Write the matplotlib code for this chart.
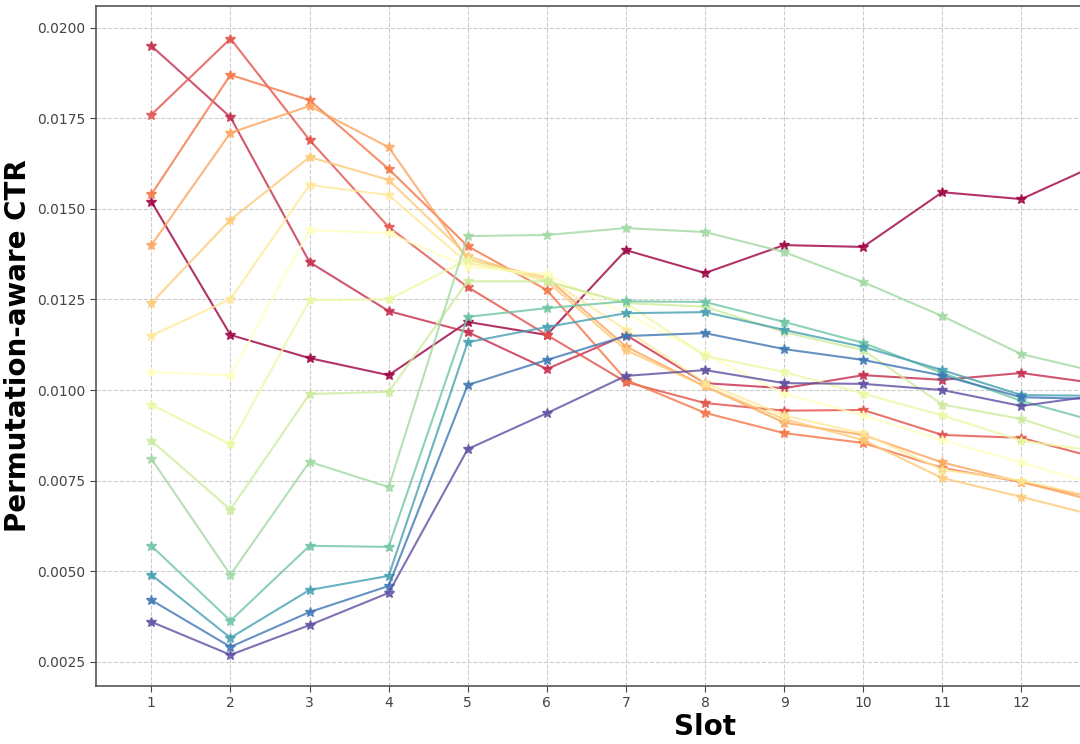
import numpy as np
import matplotlib

matplotlib.use("Agg")
import matplotlib.pyplot as plt  # noqa: E402

# slots 1..13 (the picture is cut off a bit past slot 12)
slots = np.arange(1, 14)

# one curve per original position, ordered along the Spectral colormap
ctr_0 = [0.0152, 0.01152, 0.01088, 0.01041, 0.01188, 0.01152, 0.01386, 0.01323, 0.0140, 0.01395, 0.01546, 0.01527, 0.01626]
ctr_1 = [0.0195, 0.01753, 0.01353, 0.01218, 0.0116, 0.01058, 0.01152, 0.01019, 0.01005, 0.01041, 0.01028, 0.01047, 0.01017]
ctr_2 = [0.0176, 0.0197, 0.0169, 0.0145, 0.01284, 0.01152, 0.01022, 0.00964, 0.00943, 0.00945, 0.00876, 0.00868, 0.0081]
ctr_3 = [0.0154, 0.0187, 0.0180, 0.0161, 0.01397, 0.01276, 0.01028, 0.00937, 0.00881, 0.00854, 0.00785, 0.00746, 0.0070]
ctr_4 = [0.0140, 0.0171, 0.01784, 0.0167, 0.0136, 0.0131, 0.0112, 0.0101, 0.0091, 0.00876, 0.0080, 0.00746, 0.0069]
ctr_5 = [0.0124, 0.0147, 0.01643, 0.0158, 0.0137, 0.0130, 0.0111, 0.0101, 0.0092, 0.00862, 0.00757, 0.00705, 0.0065]
ctr_6 = [0.0115, 0.01251, 0.01566, 0.01538, 0.0135, 0.0131, 0.01166, 0.0102, 0.0093, 0.0088, 0.0078, 0.0075, 0.0070]
ctr_7 = [0.0105, 0.0104, 0.01441, 0.01433, 0.0134, 0.0132, 0.0121, 0.0110, 0.0099, 0.0093, 0.00862, 0.0080, 0.00735]
ctr_8 = [0.0096, 0.0085, 0.01248, 0.0125, 0.0136, 0.0130, 0.0124, 0.01094, 0.0105, 0.0099, 0.0093, 0.0086, 0.0083]
ctr_9 = [0.0086, 0.0067, 0.00989, 0.00995, 0.0130, 0.0130, 0.0124, 0.0123, 0.0116, 0.0111, 0.0096, 0.0092, 0.0085]
ctr_10 = [0.0081, 0.0049, 0.00802, 0.00732, 0.01425, 0.01428, 0.01447, 0.01436, 0.01381, 0.01298, 0.01204, 0.01099, 0.01048]
ctr_11 = [0.0057, 0.00363, 0.0057, 0.00567, 0.01202, 0.01226, 0.01245, 0.01243, 0.01188, 0.0113, 0.01047, 0.0097, 0.0091]
ctr_12 = [0.0049, 0.00316, 0.00448, 0.00487, 0.01132, 0.01174, 0.01212, 0.01215, 0.01166, 0.01119, 0.01055, 0.00986, 0.00984]
ctr_13 = [0.0042, 0.00291, 0.00387, 0.00459, 0.01014, 0.01083, 0.01149, 0.01157, 0.01113, 0.01083, 0.0104, 0.0098, 0.00975]
ctr_14 = [0.0036, 0.00269, 0.00351, 0.0044, 0.00837, 0.00936, 0.01039, 0.01055, 0.01019, 0.01017, 0.0100, 0.00956, 0.00986]

curves = [ctr_0, ctr_1, ctr_2, ctr_3, ctr_4, ctr_5, ctr_6, ctr_7,
          ctr_8, ctr_9, ctr_10, ctr_11, ctr_12, ctr_13, ctr_14]
x_ticks = list(range(1, 13))
y_ticks = [0.0025, 0.0050, 0.0075, 0.0100, 0.0125, 0.0150, 0.0175, 0.0200]

fig = plt.figure(figsize=(10.8, 7.44), dpi=100)
# the axes run past the right edge of the figure: the original plot is cropped
ax = fig.add_axes([96 / 1080, 58 / 744, 1218 / 1080, 680 / 744])

colors = plt.cm.Spectral(np.linspace(0, 1, len(curves)))
for vals, c in zip(curves, colors):
    ax.plot(slots, vals, color=c, marker="*", markersize=7, linewidth=1.5, alpha=0.8)

ax.set_xlim(0.3, 15.7)
ax.set_ylim(0.00183, 0.0206)
ax.set_xticks(x_ticks)
ax.set_yticks(y_ticks)
ax.set_yticklabels([f"{v:.4f}" for v in y_ticks])
ax.tick_params(labelsize=10, colors="#444444", length=4)
ax.grid(True, linestyle="--", color="#cccccc", linewidth=0.8)
for s in ax.spines.values():
    s.set_color("#555555")
    s.set_linewidth(1.2)

ax.set_xlabel("Slot", fontsize=20, fontweight="bold", labelpad=2)
ax.set_ylabel("Permutation-aware CTR", fontsize=20, fontweight="bold", labelpad=4)

fig.savefig("out.png", dpi=100)
plt.close(fig)
